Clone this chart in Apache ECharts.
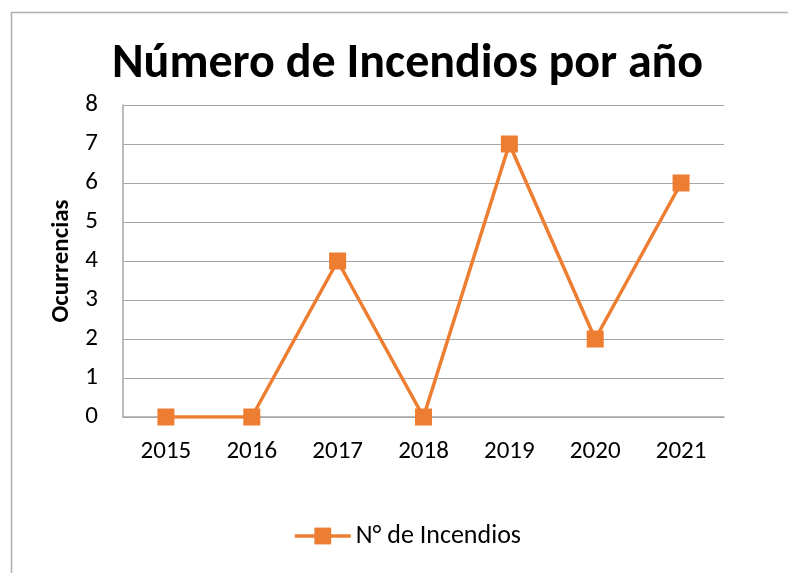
<!DOCTYPE html>
<html>
<head>
<meta charset="utf-8">
<script src="https://cdn.jsdelivr.net/npm/echarts@6/dist/echarts.min.js"></script>
<style>
  html,body{margin:0;padding:0;background:#fff;}
  #main{width:788px;height:573px;}
</style>
</head>
<body>
<div id="main"></div>
<script>
// datos del grafico
var years=["2015","2016","2017","2018","2019","2020","2021"];
var incendios=[0,0,4,0,7,2,6];
var serieNombre="N° de Incendios";
var titulo="Número de Incendios por año";
var ejeY="Ocurrencias";

var fuente='Carlito, "Open Sans", sans-serif';
var naranja='#ED7D31';

var app=echarts.init(document.getElementById('main'),null,{renderer:'canvas'});
var option={
    backgroundColor:'#fff',
    animation:false,
    title:{
        text:titulo,
        left:107,
        top:36,
        textStyle:{color:'#000',fontFamily:fuente,fontWeight:'bold',fontSize:48}
    },
    graphic:[{
        type:'rect',
        shape:{x:11.5,y:12.5,width:800,height:600},
        style:{fill:'none',stroke:'#b0b0b0',lineWidth:1.5},
        silent:true
    }],
    grid:{left:123,right:64,top:105,bottom:156},
    legend:{
        bottom:19,
        left:288,
        itemWidth:56,
        itemHeight:21,
        itemGap:4,
        data:[serieNombre],
        lineStyle:{width:3.5},
        textStyle:{color:'#000',fontFamily:fuente,fontSize:26}
    },
    xAxis:{
        type:'category',
        data:years,
        boundaryGap:true,
        axisLine:{lineStyle:{color:'#a6a6a6',width:1.5}},
        axisTick:{show:false},
        axisLabel:{color:'#000',fontFamily:fuente,fontSize:25,margin:22}
    },
    yAxis:{
        type:'value',
        min:0,max:8,interval:1,
        name:ejeY,
        nameLocation:'middle',
        nameGap:48,
        nameTextStyle:{color:'#000',fontFamily:fuente,fontWeight:'bold',fontSize:25},
        axisLine:{show:true,lineStyle:{color:'#a6a6a6',width:1.5}},
        axisTick:{show:false},
        splitLine:{lineStyle:{color:'#a6a6a6',width:1.2}},
        axisLabel:{color:'#000',fontFamily:fuente,fontSize:25,margin:25}
    },
    series:[{
        name:serieNombre,
        type:'line',
        data:incendios,
        symbol:'rect',
        symbolSize:17,
        lineStyle:{color:naranja,width:3.5},
        itemStyle:{color:naranja}
    }]
};
app.setOption(option);
</script>
</body>
</html>
